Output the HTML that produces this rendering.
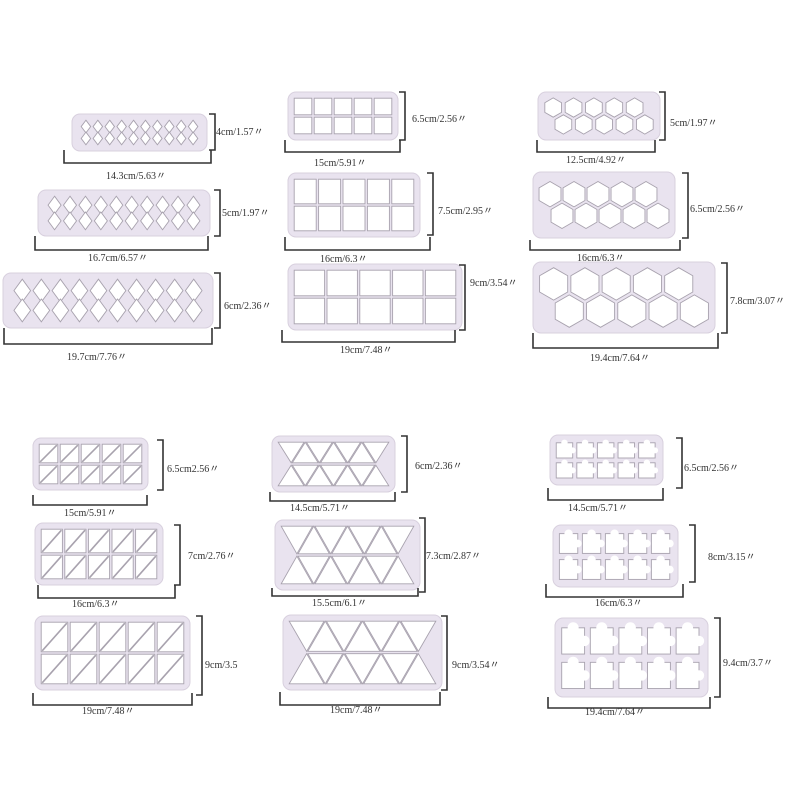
<!DOCTYPE html>
<html><head><meta charset="utf-8"><style>
html,body{margin:0;padding:0;background:#fff;width:800px;height:800px;overflow:hidden}
svg text{font-family:"Liberation Serif",serif;font-size:10px;fill:#333}
</style></head><body>
<svg id="s" width="800" height="800" viewBox="0 0 800 800" xmlns="http://www.w3.org/2000/svg">
<g id="shapes"></g>
<g id="labels">
<text x="106" y="179">14.3cm/5.63〃</text>
<text x="216" y="135">4cm/1.57〃</text>
<text x="88" y="261">16.7cm/6.57〃</text>
<text x="222" y="216">5cm/1.97〃</text>
<text x="67" y="360">19.7cm/7.76〃</text>
<text x="224" y="309">6cm/2.36〃</text>

<text x="314" y="166">15cm/5.91〃</text>
<text x="412" y="122">6.5cm/2.56〃</text>
<text x="320" y="262">16cm/6.3〃</text>
<text x="438" y="214">7.5cm/2.95〃</text>
<text x="340" y="353">19cm/7.48〃</text>
<text x="470" y="286">9cm/3.54〃</text>

<text x="566" y="163">12.5cm/4.92〃</text>
<text x="670" y="126">5cm/1.97〃</text>
<text x="577" y="261">16cm/6.3〃</text>
<text x="690" y="212">6.5cm/2.56〃</text>
<text x="590" y="361">19.4cm/7.64〃</text>
<text x="730" y="304">7.8cm/3.07〃</text>

<text x="64" y="516">15cm/5.91〃</text>
<text x="167" y="472">6.5cm2.56〃</text>
<text x="72" y="607">16cm/6.3〃</text>
<text x="188" y="559">7cm/2.76〃</text>
<text x="82" y="714">19cm/7.48〃</text>
<text x="205" y="668">9cm/3.5</text>

<text x="290" y="511">14.5cm/5.71〃</text>
<text x="415" y="469">6cm/2.36〃</text>
<text x="312" y="606">15.5cm/6.1〃</text>
<text x="426" y="559">7.3cm/2.87〃</text>
<text x="330" y="713">19cm/7.48〃</text>
<text x="452" y="668">9cm/3.54〃</text>

<text x="568" y="511">14.5cm/5.71〃</text>
<text x="684" y="471">6.5cm/2.56〃</text>
<text x="595" y="606">16cm/6.3〃</text>
<text x="708" y="560">8cm/3.15〃</text>
<text x="585" y="715">19.4cm/7.64〃</text>
<text x="723" y="666">9.4cm/3.7〃</text>
</g>
</svg>
<script>
const NS="http://www.w3.org/2000/svg",G=document.getElementById("shapes");
function el(t,a){const e=document.createElementNS(NS,t);for(const k in a)e.setAttribute(k,a[k]);G.appendChild(e);return e;}
const HOLE={fill:"#fff",stroke:"#a8a2ae","stroke-width":"0.9"};
function poly(pts){el("polygon",Object.assign({points:pts.map(p=>p.join(",")).join(" ")},HOLE));}
function plate(x,y,w,h,type){
 el("rect",{x:x,y:y,width:w,height:h,rx:8,fill:"#e9e3ef",stroke:"#d8d0de","stroke-width":1});
 const p=5,ix=x+p,iy=y+p,iw=w-2*p,ih=h-2*p,g=1.2;
 if(type=="dia"){const n=10,cw=iw/(n+0.5),dh=ih*0.56;
  for(let r=0;r<2;r++)for(let i=0;i<n;i++){const cx=ix+cw*(i+0.5)+(r?cw*0.25:cw*0.25),cy=iy+(r?ih-dh/2:dh/2);
   poly([[cx,cy-dh/2+g],[cx+cw/2-g,cy],[cx,cy+dh/2-g],[cx-cw/2+g,cy]]);}}
 if(type=="sq"){const n=5,cw=iw/n,rh=ih/2;
  for(let r=0;r<2;r++)for(let i=0;i<n;i++)el("rect",Object.assign({x:ix+cw*i+g,y:iy+rh*r+g,width:cw-2*g,height:rh-2*g},HOLE));}
 if(type=="rt"){const n=5,cw=iw/n,rh=ih/2;
  for(let r=0;r<2;r++)for(let i=0;i<n;i++){const a=ix+cw*i,b=iy+rh*r,c=a+cw,d=b+rh;
   el("rect",Object.assign({x:a+g,y:b+g,width:cw-2*g,height:rh-2*g},HOLE));
   el("line",{x1:a+g+1,y1:d-g-1,x2:c-g-1,y2:b+g+1,stroke:"#a8a2ae","stroke-width":1.6});}}
 if(type=="tri"){const rh=ih/2,n=4,cw=iw/n;
  for(let r=0;r<2;r++){const b=iy+rh*r,d=b+rh;
   for(let i=0;i<n;i++){const a=ix+cw*i;
    if(r==0){poly([[a+g,b+g],[a+cw-g,b+g],[a+cw/2,d-g]]);}
    else{poly([[a+cw/2,b+g],[a+cw-g,d-g],[a+g,d-g]]);}}
   for(let i=0;i<n-1;i++){const a=ix+cw*i+cw/2;
    if(r==0)poly([[a+cw/2,b+g],[a+cw-g,d-g],[a+g,d-g]]);else poly([[a+g,b+g],[a+cw-g,b+g],[a+cw/2,d-g]]);}}}
 if(type=="hex"){const n=5,cw=iw/(n+0.5),R=Math.min(cw/Math.sqrt(3),ih/3.5);
  for(let r=0;r<2;r++)for(let i=0;i<n;i++){const cx=ix+cw*(i+0.5)+(r?cw*0.5:0),cy=iy+ih/2+(r?0.78:-0.78)*R;
   const pts=[];for(let k=0;k<6;k++){const an=Math.PI/6+k*Math.PI/3;pts.push([cx+(R-g)*Math.cos(an),cy+(R-g)*Math.sin(an)]);}poly(pts);}}
 if(type=="pz"){const n=5,cw=iw/n,rh=ih/2;
  for(let r=0;r<2;r++)for(let i=0;i<n;i++){const a=ix+cw*i,b=iy+rh*r;
   el("rect",Object.assign({x:a+cw*0.06,y:b+rh*0.14,width:cw*0.8,height:rh*0.76},HOLE));
   el("circle",{cx:a+cw*0.46,cy:b+rh*0.14,r:rh*0.16,fill:"#fff"});
   el("circle",{cx:a+cw*0.86,cy:b+rh*0.52,r:rh*0.15,fill:"#fff"});}}
}
function rb(x,y1,y2){el("path",{d:`M${x-6},${y1}H${x}V${y2}H${x-6}`,fill:"none",stroke:"#333","stroke-width":1.6});}
function bb(x1,x2,yt,yb){el("path",{d:`M${x1},${yt}V${yb}H${x2}V${yt}`,fill:"none",stroke:"#333","stroke-width":1.6});}
const P=[
[72,114,135,37,"dia",215,114,150,64,211,150,163],
[38,190,172,46,"dia",220,190,236,35,208,236,250],
[3,273,210,55,"dia",220,273,328,4,212,328,344],
[288,92,110,48,"sq",405,92,140,285,400,140,152],
[288,173,132,64,"sq",433,173,235,285,430,237,250],
[288,264,174,66,"sq",465,265,330,282,455,330,342],
[538,92,122,48,"hex",665,92,140,537,655,140,152],
[533,172,142,66,"hex",688,173,238,530,680,240,250],
[533,262,182,71,"hex",727,263,333,533,718,333,348],
[33,438,115,52,"rt",163,440,490,33,147,495,505],
[35,523,128,62,"rt",180,525,585,38,175,585,598],
[35,616,155,74,"rt",202,616,695,33,192,693,705],
[272,436,123,56,"tri",407,436,492,270,395,492,501],
[275,520,145,70,"tri",425,518,592,272,418,588,596],
[283,615,159,75,"tri",447,616,690,280,440,692,705],
[550,435,113,50,"pz",682,438,488,548,663,488,500],
[553,525,125,62,"pz",695,525,582,546,683,584,597],
[555,618,153,79,"pz",720,618,697,548,710,697,708]];
for(const q of P){plate(q[0],q[1],q[2],q[3],q[4]);rb(q[5],q[6],q[7]);bb(q[8],q[9],q[10],q[11]);}
</script>
</body></html>
